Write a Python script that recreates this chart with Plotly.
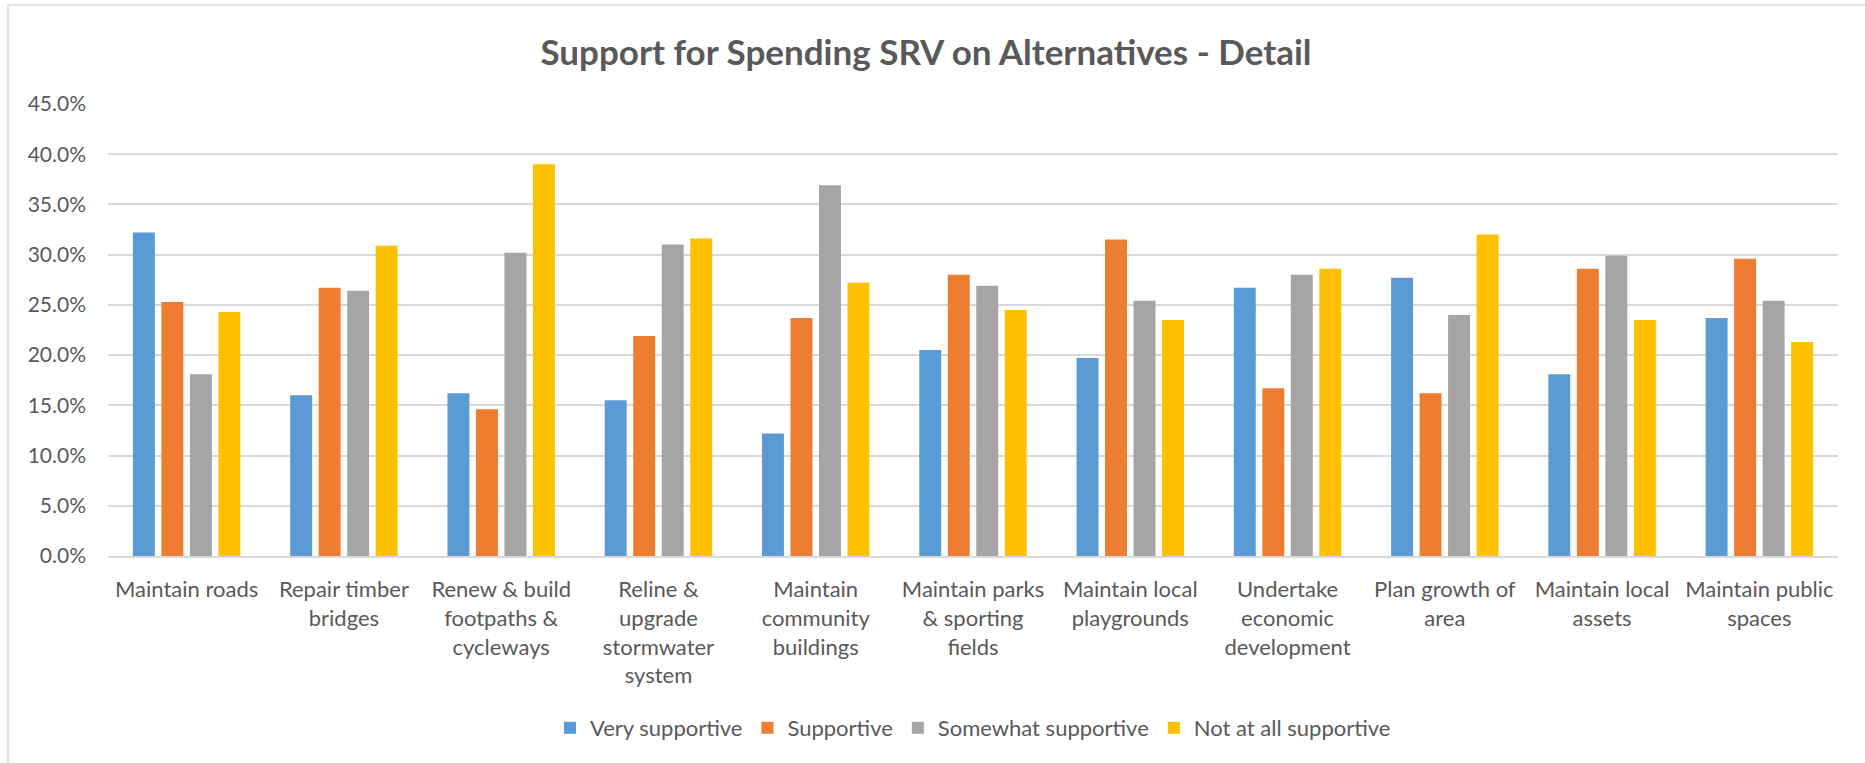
import plotly.graph_objects as go

# Spending alternatives (x categories), with line breaks as shown on the axis
categories = [
    "Maintain roads",
    "Repair timber<br>bridges",
    "Renew & build<br>footpaths &<br>cycleways",
    "Reline &<br>upgrade<br>stormwater<br>system",
    "Maintain<br>community<br>buildings",
    "Maintain parks<br>& sporting<br>fields",
    "Maintain local<br>playgrounds",
    "Undertake<br>economic<br>development",
    "Plan growth of<br>area",
    "Maintain local<br>assets",
    "Maintain public<br>spaces",
]

# Share of respondents per level of support (fractions)
very_supportive = [0.322, 0.160, 0.162, 0.155, 0.122, 0.205, 0.197, 0.267, 0.277, 0.181, 0.237]
supportive = [0.253, 0.267, 0.146, 0.219, 0.237, 0.280, 0.315, 0.167, 0.162, 0.286, 0.296]
somewhat_supportive = [0.181, 0.264, 0.302, 0.310, 0.369, 0.269, 0.254, 0.280, 0.240, 0.299, 0.254]
not_at_all_supportive = [0.243, 0.309, 0.390, 0.316, 0.272, 0.245, 0.235, 0.286, 0.320, 0.235, 0.213]

y_ticks = [0.0, 0.05, 0.10, 0.15, 0.20, 0.25, 0.30, 0.35, 0.40, 0.45]

series = [
    ("Very supportive", very_supportive, "#5B9BD5"),
    ("Supportive", supportive, "#ED7D31"),
    ("Somewhat supportive", somewhat_supportive, "#A5A5A5"),
    ("Not at all supportive", not_at_all_supportive, "#FFC000"),
]

W, H = 1865, 763
L, R, T, B = 108, 27, 104, 207
pw, ph = W - L - R, H - T - B

FONT = "Lato, 'Open Sans', sans-serif"
TXT = "#595959"
GRID = "#D9D9D9"

fig = go.Figure()
for name, vals, color in series:
    fig.add_trace(go.Bar(
        x=categories, y=vals, name=name,
        marker=dict(color=color, line=dict(width=0)),
    ))

# outer chart frame (its left and top edges fall inside the page)
fig.add_shape(
    type="rect", xref="paper", yref="paper",
    x0=(8 - L) / pw, x1=(W + 10 - L) / pw,
    y0=-(H + 10 - T - ph) / ph, y1=1 + (T - 5) / ph,
    line=dict(color="#D9D9D9", width=1.5), fillcolor="rgba(0,0,0,0)", layer="below",
)

fig.update_layout(
    width=W, height=H,
    margin=dict(l=L, r=R, t=T, b=B, pad=0),
    paper_bgcolor="white", plot_bgcolor="white",
    barmode="group", bargap=0.275, bargroupgap=0.23,
    font=dict(family=FONT, color=TXT, size=21),
    title=dict(
        text="<b>Support for Spending SRV on Alternatives - Detail</b>",
        x=926 / W, xanchor="center", xref="container",
        y=1 - 53 / H, yanchor="middle", yref="container",
        font=dict(family=FONT, size=35, color=TXT),
    ),
    legend=dict(
        orientation="h", x=0.5, xanchor="center",
        y=(ph - (728 - T)) / ph, yanchor="middle",
        font=dict(family=FONT, size=22, color=TXT),
        itemwidth=30, traceorder="normal",
    ),
    showlegend=True,
)

fig.update_xaxes(
    showgrid=False, showline=True, linecolor=GRID, linewidth=2,
    ticks="", tickfont=dict(family=FONT, size=22, color=TXT),
    ticklabelstandoff=13, fixedrange=True,
)
fig.update_yaxes(
    range=[0, 0.45], tickvals=y_ticks, tickformat=".1%",
    showgrid=True, gridcolor=GRID, gridwidth=2,
    zeroline=False, showline=False, ticks="",
    tickfont=dict(family=FONT, size=21, color=TXT),
    ticklabelstandoff=21, fixedrange=True,
)

fig.write_html("out.html")
